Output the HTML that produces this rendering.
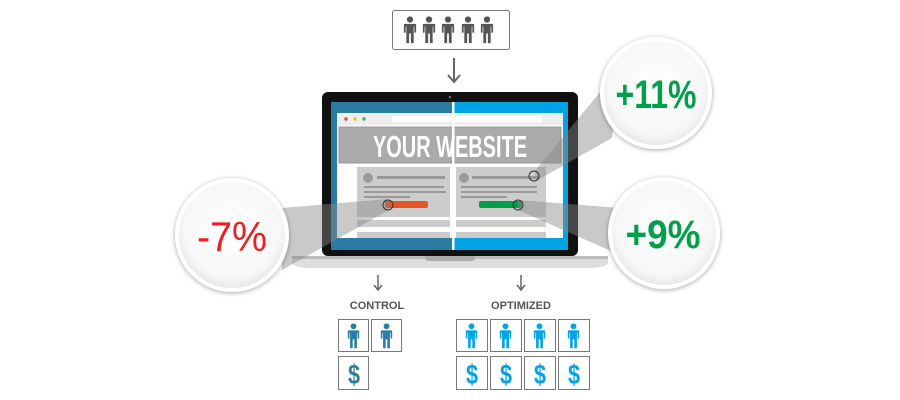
<!DOCTYPE html>
<html><head><meta charset="utf-8"><style>
html,body{margin:0;padding:0;background:#fff;}
svg{display:block}
text{font-family:"Liberation Sans",sans-serif}
</style></head><body>
<svg width="900" height="400" viewBox="0 0 900 400" xmlns="http://www.w3.org/2000/svg">
<defs>
<symbol id="p" viewBox="0 0 16 32" overflow="visible">
<circle cx="8" cy="4" r="3.6"/>
<path d="M2 9 h12 a1 1 0 0 1 1 1 v9 h-2 v-7 h-0.8 v19 h-3.2 v-11 h-2 v11 h-3.2 v-19 h-0.8 v7 h-2 v-9 a1 1 0 0 1 1 -1z"/>
</symbol>
<radialGradient id="cg" cx="50%" cy="45%" r="55%"><stop offset="0" stop-color="#fff"/><stop offset="0.8" stop-color="#f7f7f7"/><stop offset="1" stop-color="#e4e4e4"/></radialGradient>
<filter id="sh" x="-20%" y="-20%" width="140%" height="140%"><feDropShadow dx="0" dy="1" stdDeviation="2.5" flood-color="#000" flood-opacity="0.35"/></filter>
</defs>

<rect x="392.5" y="10.5" width="117" height="39" rx="2" fill="#fff" stroke="#777"/>
<g fill="#555">
<use href="#p" x="403" y="15" width="14" height="30"/>
<use href="#p" x="422" y="15" width="14" height="30"/>
<use href="#p" x="441" y="15" width="14" height="30"/>
<use href="#p" x="461" y="15" width="14" height="30"/>
<use href="#p" x="480" y="15" width="14" height="30"/>
</g>
<path d="M454 58 v23 M448 75 l6 7 l6 -7" stroke="#666" stroke-width="2" fill="none"/>

<rect x="322" y="92" width="256" height="164" rx="6" fill="#111"/>
<circle cx="450" cy="97" r="1.3" fill="#666"/>
<rect x="331" y="102" width="122" height="148" fill="#2b7ca2"/>
<rect x="453" y="102" width="115" height="148" fill="#00a3e4"/>
<rect x="337" y="113" width="226" height="125" fill="#fff"/>
<rect x="337" y="113" width="226" height="12" fill="#eee"/>
<circle cx="346" cy="119" r="1.7" fill="#e8405a"/><circle cx="355" cy="119" r="1.7" fill="#f2c200"/><circle cx="364" cy="119" r="1.7" fill="#3cb54a"/>
<rect x="392" y="116" width="150" height="6" fill="#fff"/>
<rect x="339" y="127" width="222" height="36" fill="#aaa" stroke="#999"/>
<text x="450" y="157" text-anchor="middle" font-size="31" font-weight="bold" fill="#fff" textLength="154" lengthAdjust="spacingAndGlyphs">YOUR WEBSITE</text>
<rect x="357" y="167" width="93" height="50" fill="#ccc"/>
<rect x="456" y="167" width="90" height="50" fill="#ccc"/>
<rect x="357" y="220" width="93" height="7" fill="#ccc"/><rect x="456" y="220" width="90" height="7" fill="#ccc"/>
<rect x="357" y="232" width="93" height="6" fill="#ccc"/><rect x="456" y="232" width="90" height="6" fill="#ccc"/>
<g fill="#999">
<circle cx="368" cy="178" r="5"/><rect x="377" y="176" width="68" height="3"/>
<rect x="364" y="186" width="80" height="2"/><rect x="364" y="191" width="82" height="2"/><rect x="364" y="196" width="46" height="2"/>
<circle cx="464" cy="178" r="5"/><rect x="472" y="176" width="68" height="3"/>
<rect x="461" y="186" width="76" height="2"/><rect x="461" y="191" width="76" height="2"/><rect x="461" y="196" width="46" height="2"/>
</g>
<rect x="385" y="201" width="43" height="7" rx="2" fill="#e85524"/>
<rect x="479" y="201" width="43" height="7" rx="2" fill="#00a04b"/>
<rect x="452" y="102" width="2.5" height="148" fill="#fff"/>
<path d="M292 256 h316 v6 q0 6 -20 6 h-276 q-20 0 -20 -6z" fill="#ddd"/>
<rect x="292" y="256" width="316" height="3" fill="#bbb"/>
<path d="M425 256 h50 v2 q0 3 -5 3 h-40 q-5 0 -5 -3z" fill="#aaa"/>

<g fill="#888" opacity="0.45">
<polygon points="282,208 388,199 389,210 282,270"/>
<polygon points="620,68 535,171 536,181 612,138"/>
<polygon points="518,200 518,210 620,255 620,208"/>
</g>
<g fill="none" stroke="#333" stroke-width="1">
<circle cx="388" cy="205" r="5"/><circle cx="534" cy="176" r="5"/><circle cx="518" cy="205" r="5"/>
</g>

<g filter="url(#sh)" stroke="#fff" stroke-width="4" fill="url(#cg)">
<circle cx="232" cy="235" r="55"/>
<circle cx="656" cy="93" r="54"/>
<circle cx="664" cy="233" r="54"/>
</g>
<text x="232" y="251" text-anchor="middle" font-size="42" fill="#ee1c24" textLength="70" lengthAdjust="spacingAndGlyphs">-7%</text>
<text x="656" y="108" text-anchor="middle" font-size="40" font-weight="bold" fill="#00a04b" textLength="81" lengthAdjust="spacingAndGlyphs">+11%</text>
<text x="663" y="248" text-anchor="middle" font-size="40" font-weight="bold" fill="#00a04b" textLength="75" lengthAdjust="spacingAndGlyphs">+9%</text>

<path d="M378 275 v14 M374 285 l4 5 l4 -5" stroke="#666" stroke-width="1.5" fill="none"/>
<path d="M521 275 v14 M517 285 l4 5 l4 -5" stroke="#666" stroke-width="1.5" fill="none"/>
<text x="377" y="309" text-anchor="middle" font-size="11" font-weight="bold" fill="#555">CONTROL</text>
<text x="521" y="309" text-anchor="middle" font-size="11" font-weight="bold" fill="#555">OPTIMIZED</text>

<g fill="#fff" stroke="#777">
<rect x="338.5" y="319.5" width="30" height="32"/><rect x="371.5" y="319.5" width="30" height="32"/>
<rect x="338.5" y="356.5" width="30" height="33"/>
<rect x="456.5" y="319.5" width="31" height="32"/><rect x="490.5" y="319.5" width="31" height="32"/>
<rect x="524.5" y="319.5" width="31" height="32"/><rect x="558.5" y="319.5" width="31" height="32"/>
<rect x="456.5" y="356.5" width="31" height="33"/><rect x="490.5" y="356.5" width="31" height="33"/>
<rect x="524.5" y="356.5" width="31" height="33"/><rect x="558.5" y="356.5" width="31" height="33"/>
</g>
<g fill="#2b7ca2">
<use href="#p" x="347" y="322" width="13" height="28"/>
<use href="#p" x="380" y="322" width="13" height="28"/>
</g>
<g fill="#00a3e4">
<use href="#p" x="465" y="322" width="13" height="28"/>
<use href="#p" x="499" y="322" width="13" height="28"/>
<use href="#p" x="533" y="322" width="13" height="28"/>
<use href="#p" x="567" y="322" width="13" height="28"/>
</g>
<text x="354" y="384" text-anchor="middle" font-size="28" font-weight="bold" fill="#2b7ca2" textLength="12" lengthAdjust="spacingAndGlyphs">$</text>
<g font-size="28" font-weight="bold" fill="#00a3e4" text-anchor="middle">
<text x="472" y="384" textLength="12" lengthAdjust="spacingAndGlyphs">$</text><text x="506" y="384" textLength="12" lengthAdjust="spacingAndGlyphs">$</text><text x="540" y="384" textLength="12" lengthAdjust="spacingAndGlyphs">$</text><text x="574" y="384" textLength="12" lengthAdjust="spacingAndGlyphs">$</text>
</g>
</svg>
</body></html>
